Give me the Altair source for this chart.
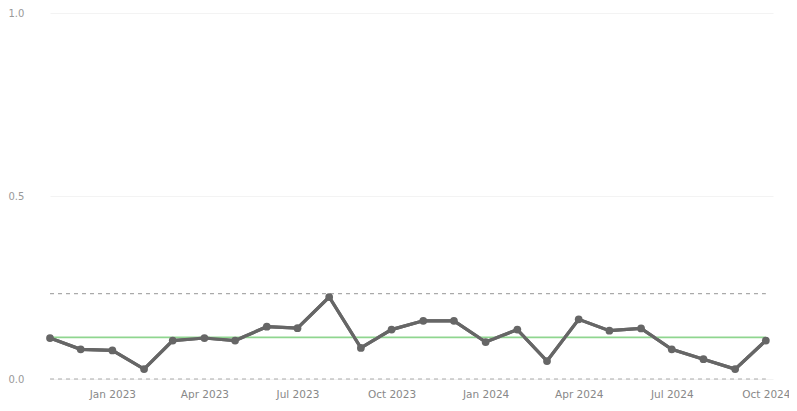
import altair as alt
import pandas as pd

months = pd.date_range("2022-11-01", "2024-10-01", freq="MS").strftime("%Y-%m-%d").tolist()
values = [0.112, 0.081, 0.078, 0.027, 0.105, 0.112, 0.105, 0.143, 0.139, 0.224,
          0.085, 0.135, 0.159, 0.159, 0.101, 0.135, 0.049, 0.163, 0.132, 0.138,
          0.081, 0.054, 0.027, 0.105]
center_line = 0.114
upper_limit = 0.233
lower_limit = 0.0
x_ticks = ["2023-01-01", "2023-04-01", "2023-07-01", "2023-10-01",
           "2024-01-01", "2024-04-01", "2024-07-01", "2024-10-01"]
y_ticks = [0.0, 0.5, 1.0]

df = pd.DataFrame({"month": months, "value": values})
df["center"] = center_line
df["upper"] = upper_limit
df["lower"] = lower_limit

font = "DejaVu Sans"

x_enc = alt.X("month:T",
              scale=alt.Scale(domain=["2022-11-01", "2024-10-08"]),
              axis=alt.Axis(values=[pd.Timestamp(t).isoformat() for t in x_ticks], format="%b %Y",
                            title=None, grid=False, domain=False, ticks=False,
                            labelPadding=10, labelFontSize=10.5, labelColor="#888888",
                            labelFont=font, labelFlush=False))
y_enc = alt.Y("value:Q",
              scale=alt.Scale(domain=[0, 1]),
              axis=alt.Axis(values=y_ticks, format=".1f", title=None, domain=False,
                            ticks=False, tickSize=0, labelAlign="left", labelPadding=42,
                            labelFontSize=10, labelColor="#999999", labelFont=font,
                            gridColor="#f3f3f3", gridWidth=1))

base = alt.Chart(df)
yscale = alt.Scale(domain=[0, 1])

upper = base.mark_line(color="#aaaaaa", strokeDash=[4, 4], strokeWidth=1.2).encode(
    x=x_enc, y=alt.Y("upper:Q", scale=yscale))
lower = base.mark_line(color="#aaaaaa", strokeDash=[4, 4], strokeWidth=1.2).encode(
    x=x_enc, y=alt.Y("lower:Q", scale=yscale))
center = base.mark_line(color="#8fd68f", strokeWidth=1.8).encode(
    x=x_enc, y=alt.Y("center:Q", scale=yscale))
line = base.mark_line(color="#666666", strokeWidth=3.2).encode(x=x_enc, y=y_enc)
points = base.mark_circle(color="#666666", size=60, opacity=1).encode(x=x_enc, y=y_enc)

chart = alt.layer(line, upper, lower, center, line, points).properties(
    width=723, height=366,
    autosize=alt.AutoSizeParams(type="none"),
    padding={"left": 42, "top": 5, "right": 16, "bottom": 25},
).configure_view(stroke=None)

chart.save("out.html", embed_options={"renderer": "svg", "actions": False})
